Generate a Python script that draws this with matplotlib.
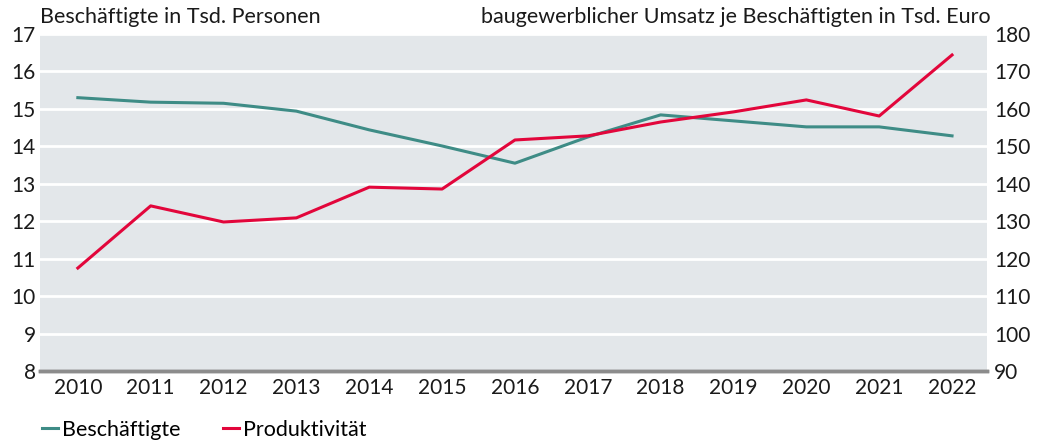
import matplotlib.pyplot as plt

years = [2010, 2011, 2012, 2013, 2014, 2015, 2016, 2017, 2018, 2019, 2020, 2021, 2022]
beschaeftigte = [15.3, 15.18, 15.15, 14.94, 14.44, 14.01, 13.55, 14.25, 14.84, 14.68, 14.52, 14.52, 14.28]
produktivitaet = [117.5, 134.1, 129.8, 130.9, 139.1, 138.6, 151.7, 152.8, 156.5, 159.2, 162.4, 158.1, 174.4]

plt.rcParams["font.family"] = ["Lato", "DejaVu Sans"]

fig = plt.figure(figsize=(10.46, 4.44), dpi=100)
ax = fig.add_axes([0.0382, 0.1644, 0.9054, 0.759])
ax2 = ax.twinx()

ax.set_facecolor("#e3e7ea")
ax.set_xlim(years[0] - 0.52, years[-1] + 0.48)
ax.set_ylim(8, 17)
ax2.set_ylim(90, 180)
ax.set_yticks(range(8, 18))
ax2.set_yticks(range(90, 181, 10))
ax.set_xticks(years)

ax.grid(axis="y", color="white", linewidth=2)
ax.set_axisbelow(True)

l1, = ax.plot(years, beschaeftigte, color="#3e8c86", linewidth=2.2, label="Beschäftigte")
l2, = ax2.plot(years, produktivitaet, color="#e2063b", linewidth=2.2, label="Produktivität")

for a in (ax, ax2):
    for s in ("top", "left", "right"):
        a.spines[s].set_visible(False)
    a.spines["bottom"].set_color("#8c8c8c")
    a.spines["bottom"].set_linewidth(2.5)
    a.tick_params(length=0, labelsize=15, colors="#1a1a1a")
ax.tick_params(axis="y", pad=3)
ax2.tick_params(axis="y", pad=5)
ax.tick_params(axis="x", pad=5)

fig.text(0.0382, 0.94, "Beschäftigte in Tsd. Personen", fontsize=15.5,
         ha="left", va="bottom", color="#1a1a1a")
fig.text(0.947, 0.94, "baugewerblicher Umsatz je Beschäftigten in Tsd. Euro", fontsize=15.5,
         ha="right", va="bottom", color="#1a1a1a")

fig.legend(handles=[l1, l2], loc="center left", bbox_to_anchor=(0.040, 0.032),
           ncol=2, frameon=False, fontsize=15.5, handlelength=0.75, handletextpad=0.2,
           columnspacing=1.95, borderpad=0, borderaxespad=0)

fig.savefig("out.png", dpi=100)
